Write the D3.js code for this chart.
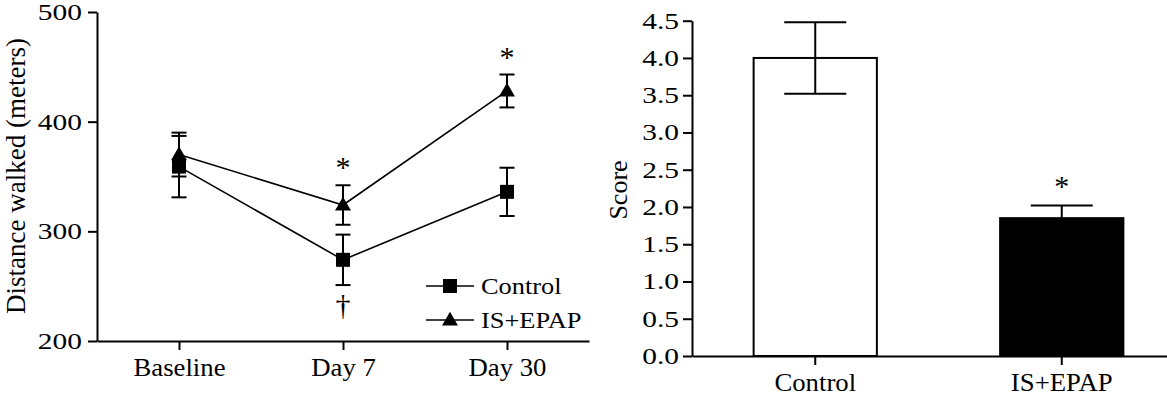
<!DOCTYPE html>
<html>
<head>
<meta charset="utf-8">
<script src="https://cdn.jsdelivr.net/npm/d3@7"></script>
<style>
  body { margin: 0; background: #fff; }
  svg { display: block; }
  text { font-family: "Liberation Serif", "Times New Roman", serif; fill: #000; }
</style>
</head>
<body>
<svg id="chart"></svg>
<script>
const width = 1167;
const height = 396;

// Left panel: distance walked
const timepoints = ["Baseline", "Day 7", "Day 30"];
const controlMean = [359, 274, 336];
const controlSem = [28, 23, 22];
const epapMean = [370, 324, 428];
const epapSem = [20, 18, 15];
const distTicks = [200, 300, 400, 500];
const distStars = ["", "*", "*"];     // above IS+EPAP
const distDaggers = ["", "\u2020", ""]; // below Control

// Right panel: score
const groups = ["Control", "IS+EPAP"];
const scoreMean = [4.0, 1.85];
const scoreSem = [0.48, 0.17];
const scoreTicks = [0, 0.5, 1.0, 1.5, 2.0, 2.5, 3.0, 3.5, 4.0, 4.5];
const scoreStars = ["", "*"];

const tickStretch = 1.28; // the reference text is wide
const labelStretch = 1.07;

const svg = d3.select("#chart")
  .attr("width", width)
  .attr("height", height);

function styleAxis(g) {
  g.selectAll("path, line").attr("stroke", "#000").attr("stroke-width", 2);
  g.selectAll("text")
    .attr("fill", "#000")
    .style("font-family", '"Liberation Serif", serif');
}

// ---------- left panel ----------
const x1 = d3.scalePoint().domain(timepoints).range([97, 589]).padding(0.5);
const y1 = d3.scaleLinear().domain([200, 500]).range([341, 12]);

const yAxis1 = svg.append("g")
  .attr("transform", "translate(97,0)")
  .call(d3.axisLeft(y1).tickValues(distTicks).tickSize(9).tickSizeOuter(0).tickPadding(6));
styleAxis(yAxis1);
yAxis1.selectAll("text")
  .style("font-size", "23px")
  .attr("x", -15 / tickStretch)
  .attr("transform", `scale(${tickStretch},1)`);

const xAxis1 = svg.append("g")
  .attr("transform", "translate(0,341)")
  .call(d3.axisBottom(x1).tickSize(9).tickSizeOuter(0));
styleAxis(xAxis1);
xAxis1.selectAll("text")
  .style("font-size", "25px")
  .attr("y", 0)
  .attr("dy", 0)
  .attr("transform", `translate(0,35) scale(${labelStretch},1)`);

svg.append("text")
  .attr("transform", "translate(25,176) rotate(-90)")
  .attr("text-anchor", "middle")
  .style("font-size", "27px")
  .text("Distance walked (meters)");

const line = d3.line().x((d, i) => x1(timepoints[i])).y(d => y1(d));

const series = [
  { name: "Control", mean: controlMean, sem: controlSem, symbol: d3.symbolSquare, size: 196 },
  { name: "IS+EPAP", mean: epapMean, sem: epapSem, symbol: d3.symbolTriangle, size: 110 }
];

series.forEach(s => {
  svg.append("path")
    .attr("d", line(s.mean))
    .attr("fill", "none")
    .attr("stroke", "#000")
    .attr("stroke-width", 1.6);

  s.mean.forEach((m, i) => {
    const cx = x1(timepoints[i]);
    const top = y1(m + s.sem[i]);
    const bot = y1(m - s.sem[i]);
    svg.append("line")
      .attr("x1", cx).attr("x2", cx).attr("y1", top).attr("y2", bot)
      .attr("stroke", "#000").attr("stroke-width", 2);
    [top, bot].forEach(yy => {
      svg.append("line")
        .attr("x1", cx - 7.5).attr("x2", cx + 7.5).attr("y1", yy).attr("y2", yy)
        .attr("stroke", "#000").attr("stroke-width", 2);
    });
  });
});

series.forEach(s => {
  svg.selectAll(null)
    .data(s.mean)
    .enter()
    .append("path")
    .attr("d", d3.symbol().type(s.symbol).size(s.size))
    .attr("transform", (d, i) => `translate(${x1(timepoints[i])},${y1(d) + (s.symbol === d3.symbolTriangle ? 1 : 0)})`)
    .attr("fill", "#000");
});

// significance marks
epapMean.forEach((m, i) => {
  if (!distStars[i]) return;
  svg.append("text")
    .attr("x", x1(timepoints[i]))
    .attr("y", y1(m + epapSem[i]) - 8)
    .attr("text-anchor", "middle")
    .style("font-size", "30px")
    .text(distStars[i]);
});
controlMean.forEach((m, i) => {
  if (!distDaggers[i]) return;
  svg.append("text")
    .attr("x", x1(timepoints[i]))
    .attr("y", y1(m - controlSem[i]) + 30)
    .attr("text-anchor", "middle")
    .style("font-size", "30px")
    .text(distDaggers[i]);
});

// legend
const legend = svg.append("g").attr("transform", "translate(426,286)");
series.forEach((s, i) => {
  const row = legend.append("g").attr("transform", `translate(0,${i * 34})`);
  row.append("line")
    .attr("x1", 0).attr("x2", 48).attr("y1", 0).attr("y2", 0)
    .attr("stroke", "#000").attr("stroke-width", 1.6);
  row.append("path")
    .attr("d", d3.symbol().type(s.symbol).size(s.size))
    .attr("transform", `translate(24,${s.symbol === d3.symbolTriangle ? 1 : 0})`)
    .attr("fill", "#000");
  row.append("text")
    .attr("transform", `translate(55,8) scale(1.1,1)`)
    .style("font-size", "24px")
    .text(s.name);
});

// ---------- right panel ----------
const x2 = d3.scaleBand().domain(groups).range([692, 1185]).paddingInner(0.5).paddingOuter(0.25);
const y2 = d3.scaleLinear().domain([0, 4.5]).range([356, 20.7]);

svg.selectAll(".bar")
  .data(groups)
  .enter()
  .append("rect")
  .attr("class", "bar")
  .attr("x", d => x2(d))
  .attr("y", (d, i) => y2(scoreMean[i]))
  .attr("width", x2.bandwidth())
  .attr("height", (d, i) => y2(0) - y2(scoreMean[i]))
  .attr("fill", (d, i) => i === 0 ? "#fff" : "#000")
  .attr("stroke", "#000")
  .attr("stroke-width", 2);

groups.forEach((g, i) => {
  const cx = x2(g) + x2.bandwidth() / 2;
  const top = y2(scoreMean[i] + scoreSem[i]);
  const bot = y2(scoreMean[i] - scoreSem[i]);
  svg.append("line")
    .attr("x1", cx).attr("x2", cx).attr("y1", top).attr("y2", bot)
    .attr("stroke", "#000").attr("stroke-width", 2);
  [top, bot].forEach(yy => {
    svg.append("line")
      .attr("x1", cx - 31).attr("x2", cx + 31).attr("y1", yy).attr("y2", yy)
      .attr("stroke", "#000").attr("stroke-width", 2);
  });
  if (scoreStars[i]) {
    svg.append("text")
      .attr("x", cx)
      .attr("y", top - 9)
      .attr("text-anchor", "middle")
      .style("font-size", "30px")
      .text(scoreStars[i]);
  }
});

const yAxis2 = svg.append("g")
  .attr("transform", "translate(692,0)")
  .call(d3.axisLeft(y2).tickValues(scoreTicks).tickFormat(d3.format(".1f")).tickSize(9).tickSizeOuter(0).tickPadding(4));
styleAxis(yAxis2);
yAxis2.selectAll("text")
  .style("font-size", "23px")
  .attr("x", -13 / tickStretch)
  .attr("transform", `scale(${tickStretch},1)`);

const xAxis2 = svg.append("g")
  .attr("transform", "translate(0,356)")
  .call(d3.axisBottom(x2).tickSize(9).tickSizeOuter(0));
styleAxis(xAxis2);
xAxis2.selectAll("text")
  .style("font-size", "25px")
  .attr("y", 0)
  .attr("dy", 0)
  .attr("transform", `translate(0,35) scale(${labelStretch},1)`);

svg.append("text")
  .attr("transform", "translate(627,190) rotate(-90)")
  .attr("text-anchor", "middle")
  .style("font-size", "26px")
  .text("Score");
</script>
</body>
</html>
